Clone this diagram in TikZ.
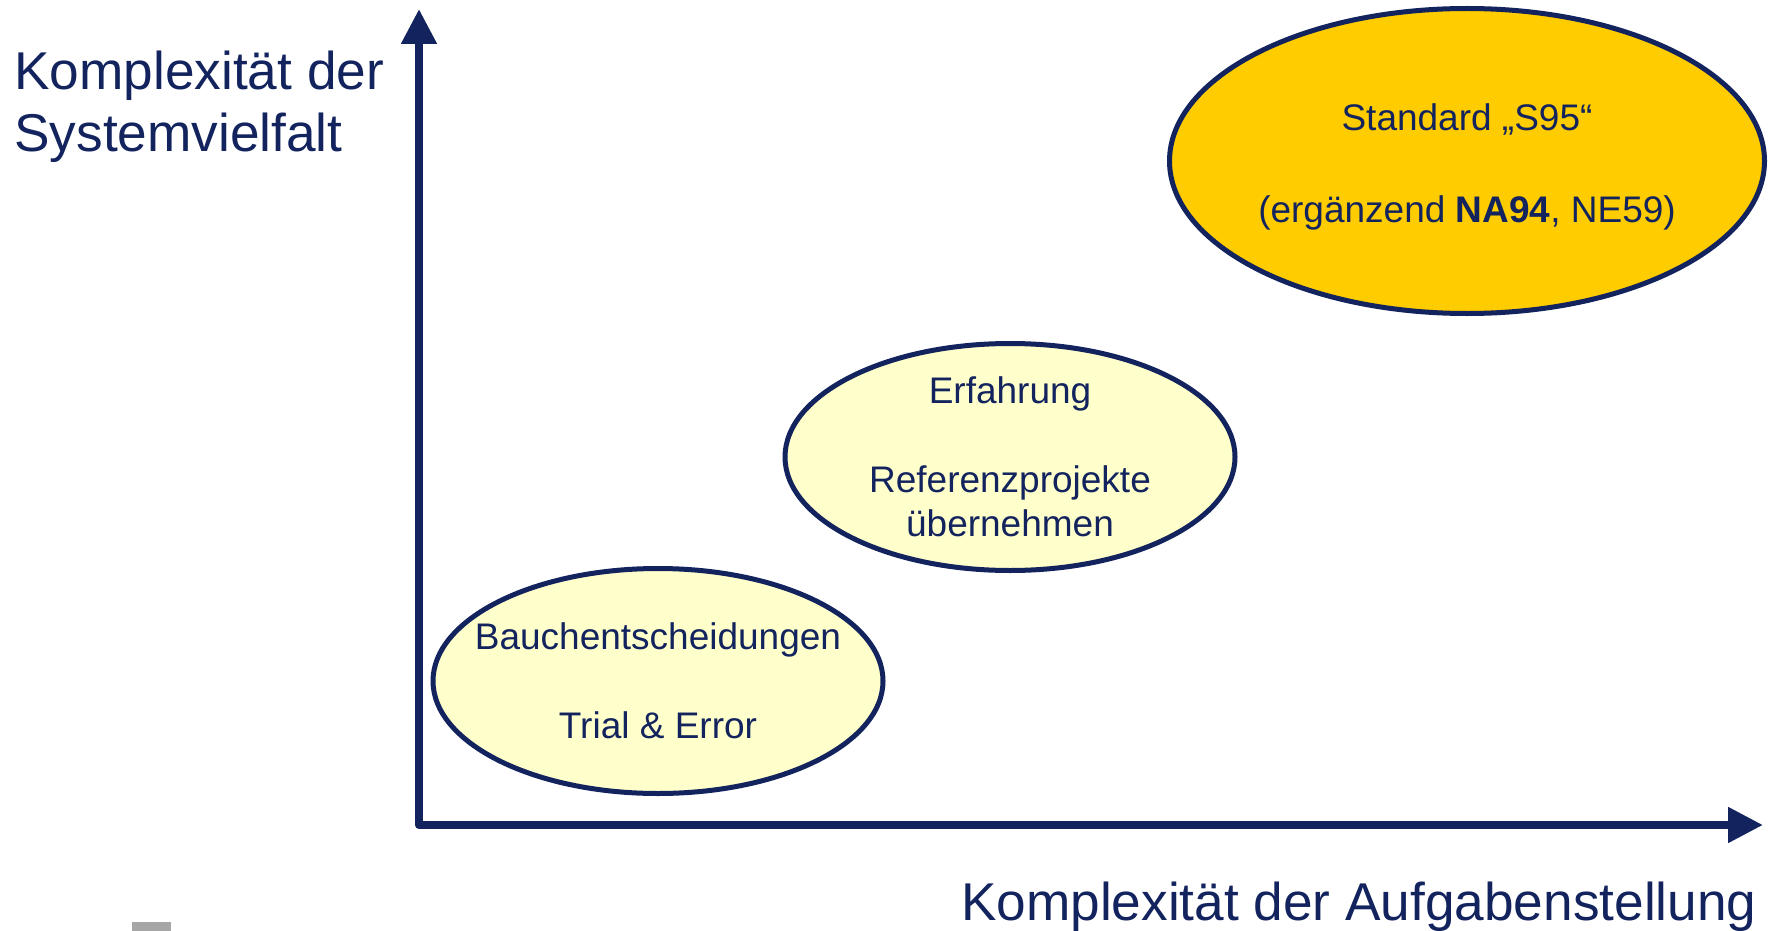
\documentclass[tikz,border=0pt]{standalone}
\usepackage{fontspec}
\setmainfont{Liberation Sans}
\usetikzlibrary{shapes.geometric,arrows.meta}

\definecolor{navy}{RGB}{18,35,94}
\definecolor{gold}{RGB}{255,204,0}
\definecolor{pale}{RGB}{255,255,204}
\definecolor{greybar}{RGB}{166,166,166}

\tikzset{
  axis/.style={draw=navy, line width=4pt, line join=round,
    {Triangle[length=17.5pt,width=17pt]}-{Triangle[length=17.5pt,width=17pt]}},
  field/.style={ellipse, draw=navy, line width=2.5pt, inner sep=0pt},
  fieldtext/.style={text=navy, align=center, inner sep=0pt,
    font=\fontsize{18.5}{22.2}\selectfont},
  axislabel/.style={text=navy, inner sep=0pt,
    font=\fontsize{26.6}{31}\selectfont},
}

\begin{document}
\begin{tikzpicture}[x=0.5pt,y=-0.5pt]

\useasboundingbox (0,0) rectangle (1777,931);

% Axes

\coordinate (Origin) at (419,825);
\coordinate (YTip) at (419,9);
\coordinate (XTip) at (1763,825);
\draw[axis] (YTip) -- (Origin) -- (XTip);

\node[axislabel, align=left, anchor=base west] (YLabel) at (14,151)
  {Komplexität der\\Systemvielfalt};
\node[axislabel, anchor=base east] (XLabel) at (1757,920)
  {Komplexität der Aufgabenstellung};

% Fields

\node[field, fill=pale, minimum width=225pt, minimum height=112.5pt] (Gut) at (658,681) {};
\node[fieldtext] (GutText) at (Gut.center)
  {Bauchentscheidungen\\[22.2pt]Trial \& Error};

\node[field, fill=pale, minimum width=225pt, minimum height=113.5pt] (Exp) at (1010,457) {};
\node[fieldtext] (ExpText) at (Exp.center)
  {Erfahrung\\[22.2pt]Referenzprojekte\\übernehmen};

\node[field, fill=gold, minimum width=297.5pt, minimum height=152.5pt] (Std) at (1467,161) {};
\node[fieldtext] (StdText) at (1467,167)
  {Standard „S95“\\[23.5pt](ergänzend \textbf{NA94}, NE59)};

\fill[greybar] (132,922) rectangle (171,931);

\end{tikzpicture}
\end{document}
